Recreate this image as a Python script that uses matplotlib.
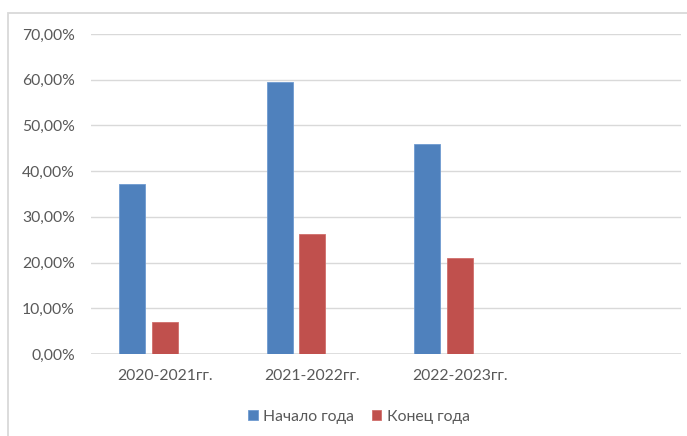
import matplotlib
matplotlib.use("Agg")
import matplotlib.pyplot as plt
from matplotlib.patches import Rectangle
from matplotlib.ticker import FuncFormatter, MultipleLocator
import numpy as np

categories = ['2020-2021гг.', '2021-2022гг.', '2022-2023гг.', '']
start_year = [37.2, 59.6, 45.9]
end_year = [6.9, 26.2, 21.1]
series_names = ['Начало года', 'Конец года']

plt.rcParams['font.family'] = ['Lato', 'DejaVu Sans']

W, H = 687, 436
fig = plt.figure(figsize=(W / 100, H / 100), dpi=100)
fig.patch.set_facecolor('white')

# chart area border
fig.patches.append(Rectangle((8 / W, -0.05), 1.2, 1 - 13 / H + 0.05,
                             transform=fig.transFigure, fill=False,
                             edgecolor='#d9d9d9', linewidth=1.3))

ax = fig.add_axes([91 / W, 1 - 354 / H, (681 - 91) / W, (354 - 34) / H])

text_color = '#595959'
grid_color = '#d9d9d9'
bw = 0.176
off = 0.22
fs = 11.3

x = np.arange(len(start_year))
ax.bar(x - off, start_year, width=bw, color='#4F81BD', edgecolor='#6f9ad0',
       linewidth=0.6, label=series_names[0], zorder=3)
ax.bar(x, end_year, width=bw, color='#C0504D', edgecolor='#d06e6b',
       linewidth=0.6, label=series_names[1], zorder=3)

ax.set_xlim(-0.5, len(categories) - 0.5)
ax.set_ylim(0, 70)
ax.yaxis.set_major_locator(MultipleLocator(10))
ax.yaxis.set_major_formatter(FuncFormatter(lambda v, p: f"{v:.2f}%".replace('.', ',')))
ax.set_xticks(np.arange(len(categories)))
ax.set_xticklabels(categories)

for s in ax.spines.values():
    s.set_visible(False)
ax.grid(axis='y', color=grid_color, linewidth=1.0, zorder=0)
ax.axhline(0, color=grid_color, linewidth=1.2, zorder=2)
ax.tick_params(axis='both', length=0, labelsize=fs, labelcolor=text_color)
ax.tick_params(axis='y', pad=11.5)
ax.tick_params(axis='x', pad=11)
ax.set_axisbelow(True)

leg = fig.legend(loc='center', bbox_to_anchor=(359 / W, 1 - 416.7 / H), ncol=2,
                 frameon=False, fontsize=fs, handlelength=0.62, handleheight=0.62,
                 handletextpad=0.35, columnspacing=1.1, labelcolor=text_color)

fig.savefig('out.png', dpi=100, facecolor='white')
